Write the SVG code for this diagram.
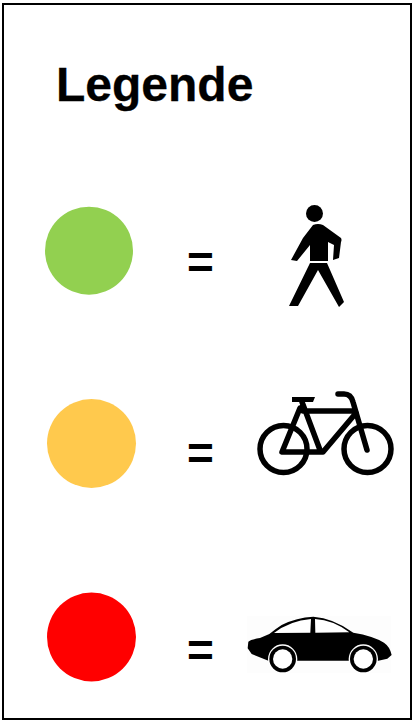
<svg xmlns="http://www.w3.org/2000/svg" width="413" height="721" viewBox="0 0 413 721">
<style>
text{font-family:"Liberation Sans",Arial,sans-serif;fill:#000}
.t{font-size:48px;font-weight:700;stroke:#000;stroke-width:.3px}
.e{font-size:46px;font-weight:700}
.f{fill:none;stroke:#000;stroke-width:5.500;stroke-linejoin:round;stroke-linecap:round}
</style>
<rect width="413" height="721" fill="#fff"/>
<rect id="frame" x="3" y="4" width="408" height="715" fill="#fff" stroke="#000" stroke-width="2"/>
<g id="title"><text class="t" x="56" y="101">Legende</text></g>
<g id="row-green">
<circle cx="89" cy="250.700" r="44" fill="#92d050"/>
<text class="e" x="187" y="278">=</text>
<g id="pedestrian">
<circle cx="314.500" cy="213.500" r="8.500"/>
<path d="M313 225Q318 223 323 225L341 238Q342 240 341 242L339 258L333 260L334 245L328 242V261H310V245L297 261L291 260L303 238Z"/>
<path d="M310 263H327L344 302L339 307L318 270L298 306H289Z"/>
</g>
</g>
<g id="row-yellow">
<circle cx="91.500" cy="443.500" r="44.500" fill="#ffc94d"/>
<text class="e" x="187" y="469">=</text>
<g id="bicycle">
<circle class="f" cx="283.500" cy="449" r="23.500"/>
<circle class="f" cx="367.500" cy="449" r="23.500"/>
<path class="f" d="M302 402L320 450M300 408L282 452H323L356 413M303 411H355"/>
<path class="f" d="M367 450L353 402Q351 394 344 394H338"/>
<path d="M292 397H315L313 402H292Z"/>
</g>
</g>
<g id="row-red">
<circle cx="91.500" cy="637" r="44.500" fill="#ff0000"/>
<text class="e" x="187" y="666">=</text>
<g id="car" transform="translate(240 610) scale(.3333)">
<rect x="22" y="18" width="432" height="172" fill="#fdfdfd"/>
<path d="M25 95Q32 88 60 84L88 72Q105 58 125 45Q170 22 220 20Q280 24 340 68Q400 78 432 98Q450 110 455 135L442 146L415 152H85L35 132L23 115Z"/>
<path d="M102 69Q150 32 213 27L211 68ZM225 27Q280 30 328 67L226 68Z" fill="#fff"/>
<circle cx="128" cy="147" r="44" fill="#fff"/>
<circle cx="128" cy="147" r="40"/>
<circle cx="128" cy="147" r="29" fill="#fff"/>
<circle cx="370" cy="147" r="44" fill="#fff"/>
<circle cx="370" cy="147" r="40"/>
<circle cx="370" cy="147" r="29" fill="#fff"/>
</g>
</g>
</svg>
